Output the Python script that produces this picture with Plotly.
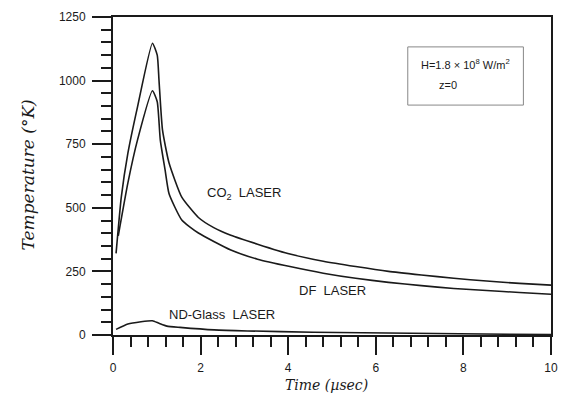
import plotly.graph_objects as go

# ---- data ----
co2_t = [0.07, 0.19, 0.34, 0.56, 0.90, 1.01, 1.05, 1.13, 1.28, 1.57, 1.95, 2.30, 2.69, 3.30, 4.04,
         4.80, 5.54, 6.29, 7.04, 7.78, 8.53, 9.28, 10.0]
co2_T = [321, 543, 715, 897, 1147, 1100, 1002, 806, 676, 542, 462, 422, 392, 357, 318,
         290, 269, 250, 236, 223, 212, 203, 196]

df_t = [0.12, 0.34, 0.56, 0.90, 1.01, 1.08, 1.19, 1.28, 1.57, 1.95, 2.69, 3.30, 4.04,
        4.80, 5.54, 6.29, 7.04, 7.78, 8.53, 9.28, 10.0]
df_T = [390, 598, 767, 960, 917, 766, 648, 555, 452, 401, 334, 298, 269,
        243, 223, 207, 194, 183, 175, 167, 160]

nd_t = [0.07, 0.34, 0.64, 0.90, 1.05, 1.23, 1.53, 2.31, 3.07, 4.57, 6.81, 9.05, 10.0]
nd_T = [22, 43, 52, 56, 46, 35, 30, 20, 16, 11, 7, 3, 2]

x_ticks = [0, 2, 4, 6, 8, 10]
y_ticks = [0, 250, 500, 750, 1000, 1250]

ink = "#1a1a1a"
line_style = dict(color=ink, width=1.6, shape="spline", smoothing=0.5)

fig = go.Figure()
fig.add_trace(go.Scatter(x=co2_t, y=co2_T, mode="lines", line=line_style, name="CO2"))
fig.add_trace(go.Scatter(x=df_t, y=df_T, mode="lines", line=line_style, name="DF"))
fig.add_trace(go.Scatter(x=nd_t, y=nd_T, mode="lines", line=line_style, name="ND-Glass"))

tickfont = dict(family="Liberation Sans, Arial", size=12, color=ink)

fig.update_layout(
    width=566, height=399,
    margin=dict(l=113, r=8, t=17, b=64),
    paper_bgcolor="white", plot_bgcolor="white",
    showlegend=False,
    xaxis=dict(range=[0, 10], tickvals=x_ticks, ticks="outside", ticklen=18, tickwidth=2,
               tickcolor=ink, showline=True, linecolor=ink, linewidth=2, mirror=True,
               showgrid=False, zeroline=False, tickfont=tickfont, ticklabelstandoff=3,
               minor=dict(dtick=0.4, ticks="outside", ticklen=10, tickwidth=2, tickcolor=ink,
                          showgrid=False)),
    yaxis=dict(range=[0, 1250], tickvals=y_ticks, ticks="outside", ticklen=19, tickwidth=2,
               tickcolor=ink, showline=True, linecolor=ink, linewidth=2, mirror=True,
               showgrid=False, zeroline=False, tickfont=tickfont, ticklabelstandoff=4,
               minor=dict(dtick=50, ticks="outside", ticklen=10, tickwidth=2, tickcolor=ink,
                          showgrid=False)),
)

label_font = dict(family="Liberation Sans, Arial", size=13, color=ink)
fig.add_annotation(x=2.98, y=558, text="CO<sub>2</sub>  LASER", showarrow=False, font=label_font)
fig.add_annotation(x=5.0, y=173, text="DF  LASER", showarrow=False, font=label_font)
fig.add_annotation(x=2.49, y=79, text="ND-Glass  LASER", showarrow=False, font=label_font)

fig.add_annotation(xref="paper", yref="paper", x=-0.193, y=0.503, xanchor="center", yanchor="middle",
                   text="<i>Temperature (°K)</i>", textangle=-90, showarrow=False,
                   font=dict(family="DejaVu Serif", size=17, color=ink))
fig.add_annotation(xref="paper", yref="paper", x=0.488, y=-0.158, xanchor="center", yanchor="middle",
                   text="<i>Time (µsec)</i>", showarrow=False,
                   font=dict(family="DejaVu Serif", size=14, color=ink))

# info box
fig.add_shape(type="rect", xref="paper", yref="paper", x0=0.673, x1=0.937, y0=0.723, y1=0.906,
              line=dict(color="#888888", width=1), fillcolor="white")
box_font = dict(family="Liberation Sans, Arial", size=11, color=ink)
fig.add_annotation(xref="paper", yref="paper", x=0.805, y=0.851, xanchor="center", yanchor="middle",
                   text="H=1.8 × 10<sup>8</sup> W/m<sup>2</sup>", showarrow=False, font=box_font)
fig.add_annotation(xref="paper", yref="paper", x=0.764, y=0.786, xanchor="center", yanchor="middle",
                   text="z=0", showarrow=False, font=box_font)

fig.write_html("out.html")
